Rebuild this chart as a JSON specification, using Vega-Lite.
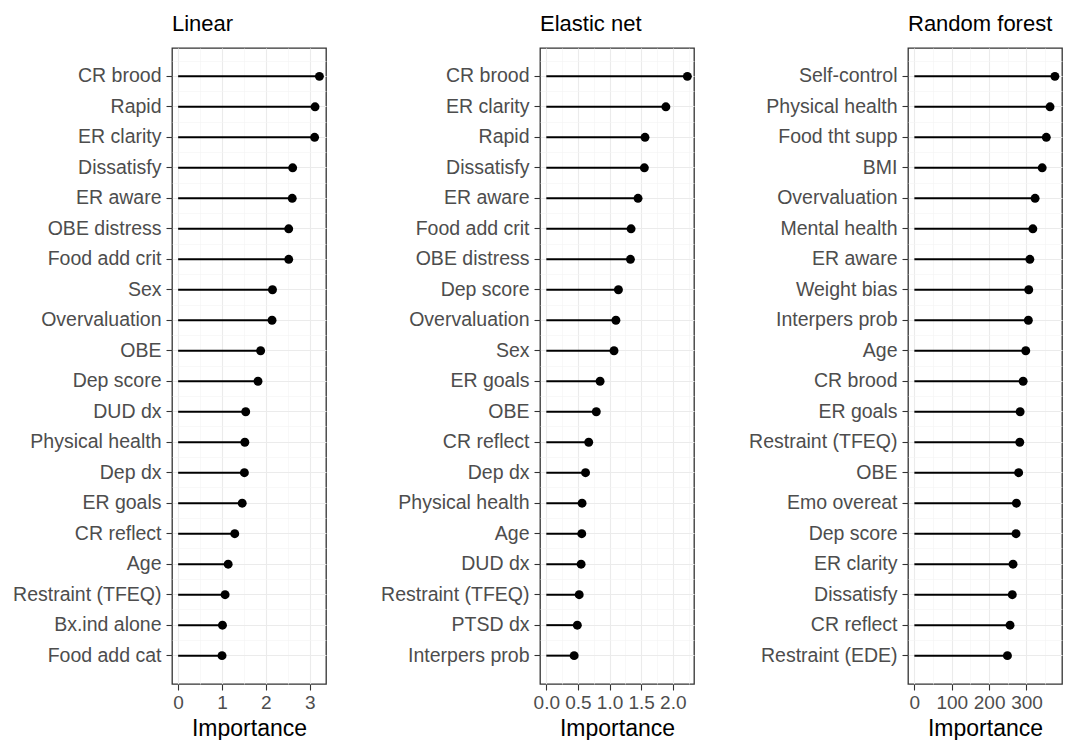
{
  "$schema": "https://vega.github.io/schema/vega-lite/v6.json",
  "background": "white",
  "padding": {"left": 11, "top": 12, "right": 0, "bottom": 0},
  "config": {
    "view": {"stroke": "#333333", "strokeWidth": 1.3},
    "font": "Liberation Sans",
    "title": {"font": "Liberation Sans", "fontSize": 22, "fontWeight": "normal", "color": "black", "anchor": "start", "frame": "group", "offset": 12},
    "axis": {"labelFont": "Liberation Sans", "titleFont": "Liberation Sans"}
  },
  "datasets": {
    "imp": [
      {"model": "Linear", "feature": "CR brood", "importance": 3.22},
      {"model": "Linear", "feature": "Rapid", "importance": 3.12},
      {"model": "Linear", "feature": "ER clarity", "importance": 3.11},
      {"model": "Linear", "feature": "Dissatisfy", "importance": 2.61},
      {"model": "Linear", "feature": "ER aware", "importance": 2.6},
      {"model": "Linear", "feature": "OBE distress", "importance": 2.52},
      {"model": "Linear", "feature": "Food add crit", "importance": 2.52},
      {"model": "Linear", "feature": "Sex", "importance": 2.15},
      {"model": "Linear", "feature": "Overvaluation", "importance": 2.14},
      {"model": "Linear", "feature": "OBE", "importance": 1.88},
      {"model": "Linear", "feature": "Dep score", "importance": 1.82},
      {"model": "Linear", "feature": "DUD dx", "importance": 1.54},
      {"model": "Linear", "feature": "Physical health", "importance": 1.52},
      {"model": "Linear", "feature": "Dep dx", "importance": 1.51},
      {"model": "Linear", "feature": "ER goals", "importance": 1.46},
      {"model": "Linear", "feature": "CR reflect", "importance": 1.29},
      {"model": "Linear", "feature": "Age", "importance": 1.14},
      {"model": "Linear", "feature": "Restraint (TFEQ)", "importance": 1.07},
      {"model": "Linear", "feature": "Bx.ind alone", "importance": 1.01},
      {"model": "Linear", "feature": "Food add cat", "importance": 1.0},
      {"model": "Elastic net", "feature": "CR brood", "importance": 2.23},
      {"model": "Elastic net", "feature": "ER clarity", "importance": 1.89},
      {"model": "Elastic net", "feature": "Rapid", "importance": 1.56},
      {"model": "Elastic net", "feature": "Dissatisfy", "importance": 1.55},
      {"model": "Elastic net", "feature": "ER aware", "importance": 1.45},
      {"model": "Elastic net", "feature": "Food add crit", "importance": 1.34},
      {"model": "Elastic net", "feature": "OBE distress", "importance": 1.33},
      {"model": "Elastic net", "feature": "Dep score", "importance": 1.14},
      {"model": "Elastic net", "feature": "Overvaluation", "importance": 1.1},
      {"model": "Elastic net", "feature": "Sex", "importance": 1.07},
      {"model": "Elastic net", "feature": "ER goals", "importance": 0.85},
      {"model": "Elastic net", "feature": "OBE", "importance": 0.79},
      {"model": "Elastic net", "feature": "CR reflect", "importance": 0.67},
      {"model": "Elastic net", "feature": "Dep dx", "importance": 0.62},
      {"model": "Elastic net", "feature": "Physical health", "importance": 0.565},
      {"model": "Elastic net", "feature": "Age", "importance": 0.56},
      {"model": "Elastic net", "feature": "DUD dx", "importance": 0.55},
      {"model": "Elastic net", "feature": "Restraint (TFEQ)", "importance": 0.52},
      {"model": "Elastic net", "feature": "PTSD dx", "importance": 0.49},
      {"model": "Elastic net", "feature": "Interpers prob", "importance": 0.44},
      {"model": "Random forest", "feature": "Self-control", "importance": 376},
      {"model": "Random forest", "feature": "Physical health", "importance": 363},
      {"model": "Random forest", "feature": "Food tht supp", "importance": 353},
      {"model": "Random forest", "feature": "BMI", "importance": 342},
      {"model": "Random forest", "feature": "Overvaluation", "importance": 323},
      {"model": "Random forest", "feature": "Mental health", "importance": 317},
      {"model": "Random forest", "feature": "ER aware", "importance": 309},
      {"model": "Random forest", "feature": "Weight bias", "importance": 306},
      {"model": "Random forest", "feature": "Interpers prob", "importance": 305},
      {"model": "Random forest", "feature": "Age", "importance": 298},
      {"model": "Random forest", "feature": "CR brood", "importance": 291},
      {"model": "Random forest", "feature": "ER goals", "importance": 283},
      {"model": "Random forest", "feature": "Restraint (TFEQ)", "importance": 282},
      {"model": "Random forest", "feature": "OBE", "importance": 279},
      {"model": "Random forest", "feature": "Emo overeat", "importance": 273},
      {"model": "Random forest", "feature": "Dep score", "importance": 272},
      {"model": "Random forest", "feature": "ER clarity", "importance": 264},
      {"model": "Random forest", "feature": "Dissatisfy", "importance": 262},
      {"model": "Random forest", "feature": "CR reflect", "importance": 256},
      {"model": "Random forest", "feature": "Restraint (EDE)", "importance": 249}
    ]
  },
  "data": {"name": "imp"},
  "spacing": 214,
  "bounds": "flush",
  "hconcat": [
    {
      "width": 154, "height": 636,
      "title": "Linear",
      "transform": [{"filter": "datum.model === 'Linear'"}],
      "layer": [
        {
          "mark": {"type": "rule", "color": "black", "strokeWidth": 2},
          "encoding": {
            "y": {"field": "feature", "type": "nominal",
              "sort": ["CR brood","Rapid","ER clarity","Dissatisfy","ER aware","OBE distress","Food add crit","Sex","Overvaluation","OBE","Dep score","DUD dx","Physical health","Dep dx","ER goals","CR reflect","Age","Restraint (TFEQ)","Bx.ind alone","Food add cat"],
              "scale": {"type": "band", "paddingInner": 0, "paddingOuter": 0.43},
              "axis": {"title": null, "orient": "left", "labelFontSize": 19.5, "labelColor": "#4d4d4d", "tickColor": "#333333", "tickSize": 6, "tickWidth": 1.1, "labelPadding": 5, "domain": false, "grid": true, "gridColor": "#ebebeb", "gridWidth": 1.1, "bandPosition": 0.5}},
            "x": {"field": "importance", "type": "quantitative",
              "scale": {"domain": [-0.14, 3.37], "nice": false, "zero": false},
              "axis": {"orient": "bottom", "values": [0, 1, 2, 3], "title": "Importance", "titleFontSize": 23, "titleFontWeight": "normal", "titleColor": "black", "titlePadding": 5, "labelFontSize": 19, "labelColor": "#4d4d4d", "tickColor": "#333333", "tickSize": 6, "tickWidth": 1.1, "labelPadding": 3, "domain": false, "grid": true, "gridColor": "#ebebeb", "gridWidth": 1.1}},
            "x2": {"datum": 0}
          }
        },
        {
          "mark": {"type": "point", "opacity": 0},
          "encoding": {
            "y": {"field": "feature", "type": "nominal",
              "sort": ["CR brood","Rapid","ER clarity","Dissatisfy","ER aware","OBE distress","Food add crit","Sex","Overvaluation","OBE","Dep score","DUD dx","Physical health","Dep dx","ER goals","CR reflect","Age","Restraint (TFEQ)","Bx.ind alone","Food add cat"],
              "axis": {"orient": "right", "title": null, "labels": false, "ticks": false, "domain": false, "grid": true, "gridColor": "#f3f3f3", "gridWidth": 0.6, "bandPosition": 0}},
            "x": {"field": "importance", "type": "quantitative",
              "axis": {"orient": "top", "values": [0.5, 1.5, 2.5], "title": null, "labels": false, "ticks": false, "domain": false, "grid": true, "gridColor": "#f3f3f3", "gridWidth": 0.6}}
          }
        },
        {
          "mark": {"type": "point", "filled": true, "color": "black", "size": 80, "opacity": 1},
          "encoding": {
            "y": {"field": "feature", "type": "nominal",
              "sort": ["CR brood","Rapid","ER clarity","Dissatisfy","ER aware","OBE distress","Food add crit","Sex","Overvaluation","OBE","Dep score","DUD dx","Physical health","Dep dx","ER goals","CR reflect","Age","Restraint (TFEQ)","Bx.ind alone","Food add cat"], "axis": null},
            "x": {"field": "importance", "type": "quantitative", "axis": null}
          }
        }
      ],
      "resolve": {"axis": {"x": "independent", "y": "independent"}}
    },
    {
      "width": 154, "height": 636,
      "title": "Elastic net",
      "transform": [{"filter": "datum.model === 'Elastic net'"}],
      "layer": [
        {
          "mark": {"type": "rule", "color": "black", "strokeWidth": 2},
          "encoding": {
            "y": {"field": "feature", "type": "nominal",
              "sort": ["CR brood","ER clarity","Rapid","Dissatisfy","ER aware","Food add crit","OBE distress","Dep score","Overvaluation","Sex","ER goals","OBE","CR reflect","Dep dx","Physical health","Age","DUD dx","Restraint (TFEQ)","PTSD dx","Interpers prob"],
              "scale": {"type": "band", "paddingInner": 0, "paddingOuter": 0.43},
              "axis": {"title": null, "orient": "left", "labelFontSize": 19.5, "labelColor": "#4d4d4d", "tickColor": "#333333", "tickSize": 6, "tickWidth": 1.1, "labelPadding": 5, "domain": false, "grid": true, "gridColor": "#ebebeb", "gridWidth": 1.1, "bandPosition": 0.5}},
            "x": {"field": "importance", "type": "quantitative",
              "scale": {"domain": [-0.1, 2.335], "nice": false, "zero": false},
              "axis": {"orient": "bottom", "values": [0, 0.5, 1, 1.5, 2], "format": ".1f", "title": "Importance", "titleFontSize": 23, "titleFontWeight": "normal", "titleColor": "black", "titlePadding": 5, "labelFontSize": 19, "labelColor": "#4d4d4d", "tickColor": "#333333", "tickSize": 6, "tickWidth": 1.1, "labelPadding": 3, "labelOverlap": false, "domain": false, "grid": true, "gridColor": "#ebebeb", "gridWidth": 1.1}},
            "x2": {"datum": 0}
          }
        },
        {
          "mark": {"type": "point", "opacity": 0},
          "encoding": {
            "y": {"field": "feature", "type": "nominal",
              "sort": ["CR brood","ER clarity","Rapid","Dissatisfy","ER aware","Food add crit","OBE distress","Dep score","Overvaluation","Sex","ER goals","OBE","CR reflect","Dep dx","Physical health","Age","DUD dx","Restraint (TFEQ)","PTSD dx","Interpers prob"],
              "axis": {"orient": "right", "title": null, "labels": false, "ticks": false, "domain": false, "grid": true, "gridColor": "#f3f3f3", "gridWidth": 0.6, "bandPosition": 0}},
            "x": {"field": "importance", "type": "quantitative",
              "axis": {"orient": "top", "values": [0.25, 0.75, 1.25, 1.75, 2.25], "title": null, "labels": false, "ticks": false, "domain": false, "grid": true, "gridColor": "#f3f3f3", "gridWidth": 0.6}}
          }
        },
        {
          "mark": {"type": "point", "filled": true, "color": "black", "size": 80, "opacity": 1},
          "encoding": {
            "y": {"field": "feature", "type": "nominal",
              "sort": ["CR brood","ER clarity","Rapid","Dissatisfy","ER aware","Food add crit","OBE distress","Dep score","Overvaluation","Sex","ER goals","OBE","CR reflect","Dep dx","Physical health","Age","DUD dx","Restraint (TFEQ)","PTSD dx","Interpers prob"], "axis": null},
            "x": {"field": "importance", "type": "quantitative", "axis": null}
          }
        }
      ],
      "resolve": {"axis": {"x": "independent", "y": "independent"}}
    },
    {
      "width": 154, "height": 636,
      "title": "Random forest",
      "transform": [{"filter": "datum.model === 'Random forest'"}],
      "layer": [
        {
          "mark": {"type": "rule", "color": "black", "strokeWidth": 2},
          "encoding": {
            "y": {"field": "feature", "type": "nominal",
              "sort": ["Self-control","Physical health","Food tht supp","BMI","Overvaluation","Mental health","ER aware","Weight bias","Interpers prob","Age","CR brood","ER goals","Restraint (TFEQ)","OBE","Emo overeat","Dep score","ER clarity","Dissatisfy","CR reflect","Restraint (EDE)"],
              "scale": {"type": "band", "paddingInner": 0, "paddingOuter": 0.43},
              "axis": {"title": null, "orient": "left", "labelFontSize": 19.5, "labelColor": "#4d4d4d", "tickColor": "#333333", "tickSize": 6, "tickWidth": 1.1, "labelPadding": 5, "domain": false, "grid": true, "gridColor": "#ebebeb", "gridWidth": 1.1, "bandPosition": 0.5}},
            "x": {"field": "importance", "type": "quantitative",
              "scale": {"domain": [-17, 395], "nice": false, "zero": false},
              "axis": {"orient": "bottom", "values": [0, 100, 200, 300], "title": "Importance", "titleFontSize": 23, "titleFontWeight": "normal", "titleColor": "black", "titlePadding": 5, "labelFontSize": 19, "labelColor": "#4d4d4d", "tickColor": "#333333", "tickSize": 6, "tickWidth": 1.1, "labelPadding": 3, "labelOverlap": false, "domain": false, "grid": true, "gridColor": "#ebebeb", "gridWidth": 1.1}},
            "x2": {"datum": 0}
          }
        },
        {
          "mark": {"type": "point", "opacity": 0},
          "encoding": {
            "y": {"field": "feature", "type": "nominal",
              "sort": ["Self-control","Physical health","Food tht supp","BMI","Overvaluation","Mental health","ER aware","Weight bias","Interpers prob","Age","CR brood","ER goals","Restraint (TFEQ)","OBE","Emo overeat","Dep score","ER clarity","Dissatisfy","CR reflect","Restraint (EDE)"],
              "axis": {"orient": "right", "title": null, "labels": false, "ticks": false, "domain": false, "grid": true, "gridColor": "#f3f3f3", "gridWidth": 0.6, "bandPosition": 0}},
            "x": {"field": "importance", "type": "quantitative",
              "axis": {"orient": "top", "values": [50, 150, 250, 350], "title": null, "labels": false, "ticks": false, "domain": false, "grid": true, "gridColor": "#f3f3f3", "gridWidth": 0.6}}
          }
        },
        {
          "mark": {"type": "point", "filled": true, "color": "black", "size": 80, "opacity": 1},
          "encoding": {
            "y": {"field": "feature", "type": "nominal",
              "sort": ["Self-control","Physical health","Food tht supp","BMI","Overvaluation","Mental health","ER aware","Weight bias","Interpers prob","Age","CR brood","ER goals","Restraint (TFEQ)","OBE","Emo overeat","Dep score","ER clarity","Dissatisfy","CR reflect","Restraint (EDE)"], "axis": null},
            "x": {"field": "importance", "type": "quantitative", "axis": null}
          }
        }
      ],
      "resolve": {"axis": {"x": "independent", "y": "independent"}}
    }
  ]
}
